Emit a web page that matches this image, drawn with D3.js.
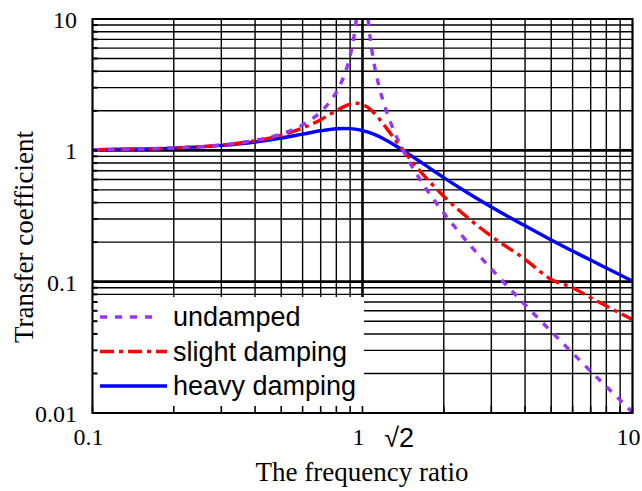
<!DOCTYPE html>
<meta charset="utf-8">
<script src="https://cdn.jsdelivr.net/npm/d3@7"></script>
<style>
body { margin: 0; background: #fff; }
.grid line { stroke: #000; stroke-width: 1.4px; }
.grid line.major { stroke-width: 2.6px; }
.title { font-family: "Liberation Serif", "Times New Roman", serif; font-size: 27px; fill: #000; }
.legend text { font-family: "Liberation Sans", Arial, sans-serif; font-size: 27px; fill: #000; }
path.curve { fill: none; stroke-width: 3.4px; }
</style>
<body>
<script>

// frequency ratio and transfer coefficient
var ratio = [0.1, 0.15, 0.2, 0.3, 0.4, 0.5, 0.6, 0.7, 0.8, 0.85, 0.9, 0.95, 1, 1.05, 1.1,
             1.2, 1.3, 1.414, 1.6, 1.8, 2, 2.5, 3, 4, 5, 6, 7, 8, 10];
var slight = [1.010, 1.023, 1.041, 1.096, 1.181, 1.304, 1.477, 1.713, 2.002, 2.141, 2.245, 2.283, 2.236, 2.111, 1.939,
              1.567, 1.258, 1.0, 0.731, 0.557, 0.447, 0.297, 0.222, 0.148, 0.104, 0.090, 0.0756, 0.0653, 0.0514];
var heavy = [1.010, 1.023, 1.040, 1.090, 1.158, 1.240, 1.329, 1.409, 1.460, 1.468, 1.463, 1.444, 1.414, 1.374, 1.328,
             1.222, 1.114, 1.0, 0.844, 0.717, 0.620, 0.463, 0.370, 0.266, 0.208, 0.171, 0.146, 0.127, 0.101];

// undamped goes off the top around resonance, so it has its own x values (null = gap)
var undampedRatio = [0.1, 0.15, 0.2, 0.3, 0.4, 0.5, 0.6, 0.7, 0.75, 0.8, 0.85, 0.9, 0.93, 0.949, 1,
                     1.049, 1.07, 1.1, 1.15, 1.2, 1.3, 1.414, 1.6, 1.8, 2, 2.5, 3, 4, 5, 6, 7, 8, 10];
var undamped = [1.010, 1.023, 1.042, 1.099, 1.190, 1.333, 1.563, 1.961, 2.286, 2.778, 3.604, 5.263, 7.402, 10, null,
                10, 6.90, 4.762, 3.10, 2.273, 1.449, 1.0, 0.641, 0.446, 0.333, 0.190, 0.125, 0.0667, 0.0417, 0.0286, 0.0208, 0.0159, 0.0101];

var xLabels = [0.1, 1, Math.SQRT2, 10];
var yLabels = [0.01, 0.1, 1, 10];
var majorX = [1];
var majorY = [0.1, 1];

var seriesNames = ["undamped", "slight damping", "heavy damping"];
var seriesColors = ["#9933ff", "#ff0000", "#0000ff"];
var seriesDash = ["7,8", "14,5,4,5", null];

var width = 642, height = 491;
var mLeft = 92.5, mRight = 632.5, mTop = 19, mBottom = 413;

var x = d3.scaleLog().domain([0.1, 10]).range([mLeft, mRight]);
var y = d3.scaleLog().domain([0.01, 10]).range([mBottom, mTop]);

var svg = d3.select("body").append("svg")
    .attr("width", width)
    .attr("height", height);

svg.append("defs").append("clipPath").attr("id", "plot")
  .append("rect")
    .attr("x", mLeft).attr("y", mTop)
    .attr("width", mRight - mLeft).attr("height", mBottom - mTop);

// grid
var grid = svg.append("g").attr("class", "grid");
grid.selectAll("line.vx")
    .data(x.ticks())
    .enter().append("line")
    .attr("class", function(d) { return majorX.indexOf(d) >= 0 ? "vx major" : "vx"; })
    .attr("x1", x).attr("x2", x)
    .attr("y1", mTop).attr("y2", mBottom);
grid.selectAll("line.hy")
    .data(y.ticks())
    .enter().append("line")
    .attr("class", function(d) { return majorY.indexOf(d) >= 0 ? "hy major" : "hy"; })
    .attr("x1", mLeft).attr("x2", mRight)
    .attr("y1", y).attr("y2", y);

// curves
var curves = [
  ratio.map(function(r, i) { return [r, heavy[i]]; }),
  ratio.map(function(r, i) { return [r, slight[i]]; }),
  undampedRatio.map(function(r, i) { return [r, undamped[i]]; })
];
var curveIdx = [2, 1, 0];

var line = d3.line()
    .defined(function(d) { return d[1] != null; })
    .x(function(d) { return x(d[0]); })
    .y(function(d) { return y(d[1]); })
    .curve(d3.curveMonotoneX);

svg.append("g").attr("clip-path", "url(#plot)")
  .selectAll("path")
  .data(curves)
  .enter().append("path")
    .attr("class", "curve")
    .attr("d", line)
    .attr("stroke", function(d, i) { return seriesColors[curveIdx[i]]; })
    .attr("stroke-dasharray", function(d, i) { return seriesDash[curveIdx[i]]; });

// legend (white box in the lower left corner)
var legend = svg.append("g").attr("class", "legend");
legend.append("rect")
    .attr("x", mLeft).attr("y", 297)
    .attr("width", x(1) + 1.5 - mLeft).attr("height", mBottom - 297)
    .attr("fill", "#fff");
var rows = legend.selectAll("g.row")
    .data(seriesNames)
    .enter().append("g")
    .attr("class", "row")
    .attr("transform", function(d, i) { return "translate(0," + (317 + i * 34.5) + ")"; });
rows.append("line")
    .attr("x1", 100)
    .attr("x2", function(d, i) { return i == 0 ? 152 : 167; })
    .attr("stroke", function(d, i) { return seriesColors[i]; })
    .attr("stroke-width", 3.4)
    .attr("stroke-dasharray", function(d, i) { return seriesDash[i]; });
rows.append("text")
    .attr("x", 173)
    .attr("y", 9)
    .text(function(d) { return d; });

// inward ticks
var tk = svg.append("g");
tk.selectAll("line.tx")
    .data(x.ticks())
    .enter().append("line")
    .attr("x1", x).attr("x2", x)
    .attr("y1", mBottom).attr("y2", mBottom - 7)
    .attr("stroke", "#000").attr("stroke-width", 1.6);
tk.selectAll("line.ty")
    .data(y.ticks())
    .enter().append("line")
    .attr("x1", mLeft).attr("x2", mLeft + 5)
    .attr("y1", y).attr("y2", y)
    .attr("stroke", "#000").attr("stroke-width", 2);

// frame
svg.append("rect")
    .attr("x", mLeft).attr("y", mTop)
    .attr("width", mRight - mLeft).attr("height", mBottom - mTop)
    .attr("fill", "none").attr("stroke", "#000").attr("stroke-width", 2);

// tick labels via axes
var xAxis = svg.append("g")
    .attr("transform", "translate(-4.5," + mBottom + ")")
    .call(d3.axisBottom(x).tickValues(xLabels).tickSize(0).tickPadding(0)
      .tickFormat(function(d) { return d === Math.SQRT2 ? "\u221A2" : d3.format("~g")(d); }));
var yAxis = svg.append("g")
    .attr("transform", "translate(" + (mLeft - 15.5) + ",0)")
    .call(d3.axisLeft(y).tickValues(yLabels).tickSize(0).tickPadding(0)
      .tickFormat(d3.format("~g")));

[xAxis, yAxis].forEach(function(a) {
  a.select(".domain").remove();
  a.attr("font-size", null).attr("font-family", null);
  a.selectAll("text")
      .style("font-family", "'Liberation Serif', 'Times New Roman', serif")
      .style("font-size", "24px")
      .attr("fill", "#000");
});
xAxis.selectAll("text")
    .attr("y", 32).attr("dy", null)
    .filter(function(d) { return d === Math.SQRT2; })
    .style("font-family", "'Liberation Sans', Arial, sans-serif")
    .style("font-size", "27px")
    .attr("y", 34);
yAxis.selectAll("text").attr("dy", "0.35em");

// axis titles
svg.append("text")
    .attr("class", "title")
    .attr("x", 362).attr("y", 481)
    .attr("text-anchor", "middle")
    .text("The frequency ratio");
svg.append("text")
    .attr("class", "title")
    .attr("transform", "translate(33,237) rotate(-90)")
    .attr("text-anchor", "middle")
    .text("Transfer coefficient");

</script>
</body>
